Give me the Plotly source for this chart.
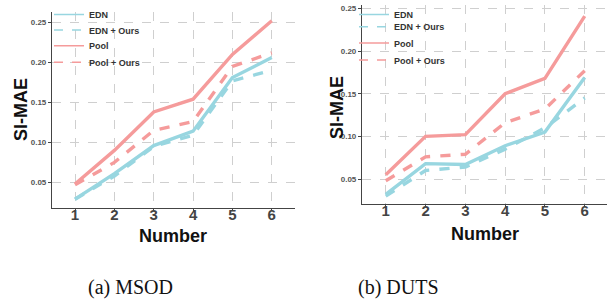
import plotly.graph_objects as go

numbers = [1, 2, 3, 4, 5, 6]
series_names = ["EDN", "EDN + Ours", "Pool", "Pool + Ours"]

# (a) MSOD
msod_edn = [0.029, 0.061, 0.096, 0.114, 0.181, 0.206]
msod_edn_ours = [0.029, 0.058, 0.095, 0.109, 0.177, 0.190]
msod_pool = [0.048, 0.090, 0.138, 0.154, 0.210, 0.252]
msod_pool_ours = [0.047, 0.075, 0.115, 0.126, 0.195, 0.212]

# (b) DUTS
duts_edn = [0.032, 0.068, 0.067, 0.089, 0.105, 0.169]
duts_edn_ours = [0.030, 0.060, 0.064, 0.085, 0.110, 0.145]
duts_pool = [0.055, 0.100, 0.102, 0.150, 0.168, 0.241]
duts_pool_ours = [0.048, 0.076, 0.079, 0.116, 0.132, 0.177]

y_ticks = [0.05, 0.10, 0.15, 0.20, 0.25]
captions = ["(a) MSOD", "(b) DUTS"]

BLUE = "#98d6e0"
RED = "#f59b9b"
styles = [(BLUE, "solid"), (BLUE, "dash"), (RED, "solid"), (RED, "dash")]

W, H = 609, 302
def px(x): return x / W
def py(y): return 1 - y / H

fig = go.Figure()

# legend row centres (pixels from top); the item centre sits 14.5 px below the legend top
panels = [
    dict(data=[msod_edn, msod_edn_ours, msod_pool, msod_pool_ours], xa="x", ya="y",
         leg_x=49, leg_rows=[13.3, 30, 45.7, 62.3]),
    dict(data=[duts_edn, duts_edn_ours, duts_pool, duts_pool_ours], xa="x2", ya="y2",
         leg_x=354, leg_rows=[10, 26.7, 43, 60]),
]

legend_font = dict(family="Liberation Sans", size=9, color="#333", weight="bold")
layout_legends = {}
leg_idx = 0
for p in panels:
    for name, vals, (col, dash) in zip(series_names, p["data"], styles):
        fig.add_trace(go.Scatter(x=numbers, y=vals, mode="lines", name=name,
                                 line=dict(color=col, width=3.4, dash=dash),
                                 xaxis=p["xa"], yaxis=p["ya"], showlegend=False))
    for (name, (col, dash)), row in zip(zip(series_names, styles), p["leg_rows"]):
        leg_idx += 1
        lname = "legend" if leg_idx == 1 else f"legend{leg_idx}"
        fig.add_trace(go.Scatter(x=[None], y=[None], mode="lines", name=name,
                                 line=dict(color=col, width=1.5, dash=dash),
                                 xaxis=p["xa"], yaxis=p["ya"], legend=lname))
        top = max(row - 14.5, 0)
        layout_legends[lname] = dict(x=px(p["leg_x"]), y=py(top), xanchor="left", yanchor="top",
                                     bgcolor="rgba(0,0,0,0)", font=legend_font, itemwidth=30)

axis_common = dict(showline=True, linecolor="#444", linewidth=1.2, mirror=False,
                   showgrid=True, gridcolor="#cfcfcf", griddash="dash", gridwidth=1,
                   zeroline=False, ticks="outside", tickcolor="#444")

xfont = dict(family="Liberation Sans", size=15, color="#444", weight="bold")
yfont = dict(family="Liberation Sans", size=8, color="#555", weight="bold")

fig.update_layout(
    width=W, height=H, margin=dict(l=0, r=0, t=0, b=0),
    paper_bgcolor="white", plot_bgcolor="white",
    xaxis=dict(domain=[px(52), px(295)], range=[0.415, 6.59], tickvals=numbers,
               tickfont=xfont, anchor="y", ticklen=2, ticklabelstandoff=-9, **axis_common),
    yaxis=dict(domain=[py(208), py(12)], range=[0.018, 0.263], tickvals=y_ticks,
               tickformat=".2f", tickfont=yfont, anchor="x", ticklen=3, **axis_common),
    xaxis2=dict(domain=[px(362), px(607)], range=[0.403, 6.56], tickvals=numbers,
                tickfont=xfont, anchor="y2", ticklen=2, ticklabelstandoff=-9, **axis_common),
    yaxis2=dict(domain=[py(204), py(5)], range=[0.0207, 0.254], tickvals=y_ticks,
                tickformat=".2f", tickfont=yfont, anchor="x2", ticklen=3, **axis_common),
    **layout_legends,
)

title_font = dict(family="Liberation Sans", size=18, color="#111", weight="bold")
cap_font = dict(family="Liberation Serif", size=20, color="#111")
ann = [
    dict(text="Number", x=px(173), y=py(236), font=title_font),
    dict(text="Number", x=px(485), y=py(234), font=title_font),
    dict(text="SI-MAE", x=px(21), y=py(110), font=title_font, textangle=-90),
    dict(text="SI-MAE", x=px(337), y=py(108), font=title_font, textangle=-90),
    dict(text=captions[0], x=px(130), y=py(287), font=cap_font),
    dict(text=captions[1], x=px(398), y=py(287), font=cap_font),
]
for a in ann:
    fig.add_annotation(xref="paper", yref="paper", showarrow=False, xanchor="center", yanchor="middle", **a)

fig.write_html("out.html", post_script="document.body.style.margin='0';",
               config={"displayModeBar": False})
